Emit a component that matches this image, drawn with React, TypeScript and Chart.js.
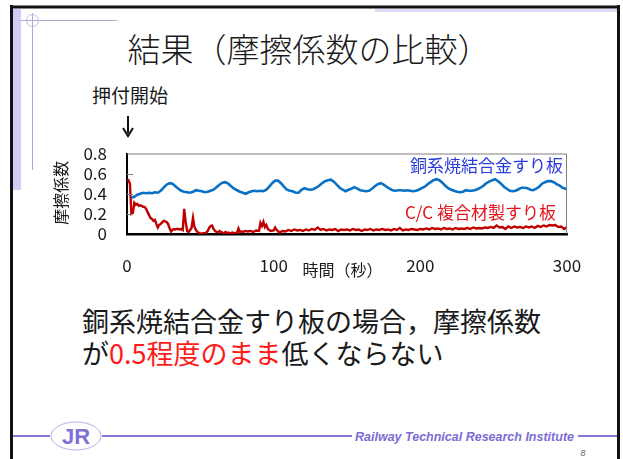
import React, { useEffect, useRef } from "react";
import { Chart, registerables } from "chart.js";

Chart.register(...registerables);

// 銅系焼結合金すり板: time (s) and friction coefficient
const timeSintered = [
  3, 5, 7, 9, 11, 13, 15, 17, 19, 21, 23, 25, 27, 29, 31, 33, 35, 37, 39, 41, 43, 45, 47, 49, 51, 53, 55, 57, 59,
  61, 63, 65, 67, 69, 71, 73, 75, 77, 79, 81, 83, 85, 87, 89, 91, 93, 95, 97, 99, 101, 103, 105, 107, 109, 111,
  113, 115, 117, 119, 121, 123, 125, 127, 129, 131, 133, 135, 137, 139, 141, 143, 145, 147, 149, 151, 153, 155,
  157, 159, 161, 163, 165, 167, 169, 171, 173, 175, 177, 179, 181, 183, 185, 187, 189, 191, 193, 195, 197, 199,
  201, 203, 205, 207, 209, 211, 213, 215, 217, 219, 221, 223, 225, 227, 229, 231, 233, 235, 237, 239, 241, 243,
  245, 247, 249, 251, 253, 255, 257, 259, 261, 263, 265, 267, 269, 271, 273, 275, 277, 279, 281, 283, 285, 287,
  289, 291, 293, 295, 297, 299, 300,
];
const muSintered = [
  0.36, 0.37, 0.39, 0.4, 0.41, 0.405, 0.41, 0.405, 0.415, 0.41, 0.43, 0.46, 0.49, 0.505, 0.5, 0.475, 0.45, 0.43,
  0.42, 0.415, 0.41, 0.42, 0.435, 0.43, 0.425, 0.415, 0.42, 0.43, 0.44, 0.465, 0.49, 0.51, 0.515, 0.5, 0.475, 0.45,
  0.435, 0.42, 0.41, 0.4, 0.415, 0.425, 0.43, 0.425, 0.43, 0.425, 0.44, 0.47, 0.505, 0.53, 0.53, 0.505, 0.47,
  0.44, 0.43, 0.425, 0.41, 0.41, 0.44, 0.455, 0.445, 0.44, 0.445, 0.46, 0.48, 0.505, 0.525, 0.535, 0.54, 0.52,
  0.49, 0.46, 0.44, 0.425, 0.44, 0.45, 0.465, 0.45, 0.435, 0.43, 0.425, 0.43, 0.45, 0.475, 0.495, 0.505, 0.49,
  0.47, 0.45, 0.435, 0.43, 0.435, 0.435, 0.43, 0.435, 0.43, 0.425, 0.43, 0.44, 0.455, 0.47, 0.495, 0.515, 0.535,
  0.545, 0.535, 0.51, 0.48, 0.455, 0.44, 0.43, 0.42, 0.415, 0.42, 0.435, 0.43, 0.43, 0.435, 0.445, 0.46, 0.48,
  0.505, 0.52, 0.535, 0.545, 0.525, 0.5, 0.47, 0.45, 0.43, 0.425, 0.43, 0.445, 0.46, 0.46, 0.455, 0.44, 0.435,
  0.45, 0.47, 0.5, 0.515, 0.525, 0.525, 0.515, 0.495, 0.48, 0.46, 0.45, 0.445,
];

// C/C 複合材製すり板: time (s) and friction coefficient
const timeCC = [
  0, 1, 2, 3, 4, 5, 6, 7, 8, 9, 10, 11, 12, 13, 14, 15, 16, 17, 18, 19, 20, 21, 22, 23, 24, 25, 26, 27, 28, 29, 30,
  31, 32, 33, 34, 35, 36, 37, 38, 39, 40, 41, 42, 43, 44, 45, 46, 47, 48, 49, 50, 51, 52, 53, 54, 55, 56, 57, 58,
  59, 60, 61, 62, 63, 64, 65, 66, 67, 68, 69, 70, 71, 72, 73, 74, 75, 76, 77, 78, 79, 80, 81, 82, 84, 86, 88, 90,
  91, 92, 93, 94, 95, 96, 98, 100, 101, 102, 104, 106, 108, 110, 112, 114, 116, 118, 120, 122, 124, 126, 128, 130,
  132, 134, 136, 138, 140, 142, 144, 146, 148, 150, 152, 154, 156, 158, 160, 162, 164, 166, 168, 170, 172, 174,
  176, 178, 180, 182, 184, 186, 188, 190, 192, 194, 196, 198, 200, 202, 204, 206, 208, 210, 212, 214, 216, 218,
  220, 222, 224, 226, 228, 230, 232, 234, 236, 238, 240, 242, 244, 246, 248, 250, 252, 254, 256, 258, 260, 262,
  264, 266, 268, 270, 272, 274, 276, 278, 280, 282, 284, 286, 288, 290, 292, 294, 296, 298, 300,
];
const muCC = [
  0.53, 0.535, 0.5, 0.2, 0.21, 0.31, 0.29, 0.3, 0.28, 0.285, 0.28, 0.27, 0.27, 0.25, 0.22, 0.19, 0.16, 0.15, 0.13,
  0.14, 0.1, 0.065, 0.09, 0.1, 0.115, 0.13, 0.125, 0.12, 0.1, 0.06, 0.025, 0.04, 0.05, 0.045, 0.05, 0.05, 0.045,
  0.05, 0.04, 0.25, 0.12, 0.03, 0.02, 0.04, 0.06, 0.16, 0.07, 0.04, 0.02, 0.01, 0.005, 0.0, 0.01, 0.005, 0.015,
  0.03, 0.06, 0.08, 0.085, 0.05, 0.03, 0.02, 0.015, 0.03, 0.02, 0.015, 0.005, 0.02, 0.01, 0.015, 0.005, 0.01,
  0.015, 0.005, 0.01, 0.01, 0.055, 0.02, 0.025, 0.02, 0.025, 0.03, 0.025, 0.03, 0.02, 0.035, 0.03, 0.11, 0.08,
  0.12, 0.07, 0.09, 0.05, 0.03, 0.035, 0.065, 0.04, 0.015, 0.03, 0.025, 0.04, 0.03, 0.045, 0.035, 0.04, 0.03,
  0.045, 0.035, 0.05, 0.04, 0.065, 0.04, 0.05, 0.035, 0.045, 0.04, 0.05, 0.03, 0.045, 0.04, 0.045, 0.035, 0.05,
  0.04, 0.045, 0.03, 0.045, 0.04, 0.05, 0.035, 0.045, 0.04, 0.05, 0.04, 0.045, 0.035, 0.05, 0.04, 0.06, 0.035,
  0.045, 0.04, 0.05, 0.045, 0.04, 0.05, 0.045, 0.055, 0.045, 0.06, 0.05, 0.055, 0.045, 0.06, 0.05, 0.055, 0.045,
  0.06, 0.05, 0.055, 0.05, 0.06, 0.05, 0.065, 0.055, 0.06, 0.055, 0.065, 0.06, 0.07, 0.06, 0.085, 0.065, 0.07,
  0.05, 0.075, 0.06, 0.075, 0.065, 0.07, 0.06, 0.075, 0.065, 0.075, 0.06, 0.08, 0.07, 0.085, 0.075, 0.09, 0.085,
  0.09, 0.07, 0.075, 0.05, 0.07,
];

const xTickValues = [0, 100, 200, 300];
const yTickValues = [0, 0.2, 0.4, 0.6, 0.8];
const innerTickValues = [0.2, 0.4, 0.6];

const seriesNames = ["銅系焼結合金すり板", "C/C 複合材製すり板"];
const xTitle = "時間（秒）";
const yTitle = "摩擦係数";

const JP = '"Noto Sans CJK JP", "Noto Sans", sans-serif';

// Frame, inner tick marks, axis titles and in-plot series labels
const decorations = {
  id: "decorations",
  afterDraw(chart: any) {
    const { ctx, chartArea: a, scales } = chart;
    ctx.save();
    // light top/right frame
    ctx.strokeStyle = "#7f7f7f";
    ctx.lineWidth = 1;
    ctx.beginPath();
    ctx.moveTo(a.left, a.top + 0.5);
    ctx.lineTo(a.right - 0.5, a.top + 0.5);
    ctx.lineTo(a.right - 0.5, a.bottom);
    ctx.stroke();
    // short tick marks pointing into the plot
    ctx.strokeStyle = "#808080";
    innerTickValues.forEach((v) => {
      const y = Math.round(scales.y.getPixelForValue(v)) + 0.5;
      ctx.beginPath();
      ctx.moveTo(a.left, y);
      ctx.lineTo(a.left + 6, y);
      ctx.stroke();
    });
    // axis titles
    ctx.fillStyle = "#1a1a1a";
    ctx.font = `16px ${JP}`;
    ctx.textAlign = "center";
    ctx.textBaseline = "middle";
    ctx.fillText(xTitle, scales.x.getPixelForValue(147), a.bottom + 36);
    ctx.save();
    ctx.translate(a.left - 66, scales.y.getPixelForValue(0.41));
    ctx.rotate(-Math.PI / 2);
    ctx.fillText(yTitle, 0, 0);
    ctx.restore();
    // series labels
    ctx.font = `17px ${JP}`;
    ctx.textAlign = "right";
    ctx.fillStyle = "#2a3bdc";
    ctx.fillText(seriesNames[0], a.right - 4, scales.y.getPixelForValue(0.68));
    ctx.fillStyle = "#e3141c";
    ctx.fillText(seriesNames[1], a.right - 11, scales.y.getPixelForValue(0.21));
    ctx.restore();
  },
};

function FrictionChart() {
  const ref = useRef<HTMLCanvasElement>(null);
  useEffect(() => {
    const canvas = ref.current!;
    const chart = new Chart(canvas, {
      type: "line",
      data: {
        datasets: [
          {
            label: seriesNames[0],
            data: timeSintered.map((t, i) => ({ x: t, y: muSintered[i] })),
            borderColor: "#0a70c4",
            borderWidth: 2.6,
            pointRadius: 0,
            tension: 0,
          },
          {
            label: seriesNames[1],
            data: timeCC.map((t, i) => ({ x: t, y: muCC[i] })),
            borderColor: "#c00000",
            borderWidth: 2.4,
            pointRadius: 0,
            tension: 0,
          },
        ],
      },
      options: {
        animation: false,
        responsive: false,
        events: [],
        layout: { padding: { left: 0, right: 56, top: 22, bottom: 0 } },
        plugins: { legend: { display: false }, tooltip: { enabled: false } },
        scales: {
          x: {
            type: "linear",
            min: 0,
            max: 300,
            afterBuildTicks: (s: any) => {
              s.ticks = xTickValues.map((v) => ({ value: v }));
            },
            afterFit: (s: any) => {
              s.height = 56;
            },
            grid: { display: true, drawOnChartArea: false, drawTicks: false },
            border: { display: true, color: "#000", width: 2.5 },
            ticks: {
              padding: 21,
              maxRotation: 0,
              autoSkip: false,
              color: "#1a1a1a",
              font: { family: JP, size: 17 },
            },
          },
          y: {
            min: 0,
            max: 0.8,
            afterBuildTicks: (s: any) => {
              s.ticks = yTickValues.map((v) => ({ value: v }));
            },
            afterFit: (s: any) => {
              s.width = 127;
            },
            grid: { display: true, drawOnChartArea: false, drawTicks: false },
            border: { display: true, color: "#000", width: 2 },
            ticks: {
              padding: 20,
              autoSkip: false,
              color: "#1a1a1a",
              font: { family: JP, size: 17, lineHeight: 1 },
              callback: (v: any) => String(Math.round(Number(v) * 10) / 10),
            },
          },
        },
      },
      plugins: [decorations],
    } as any);
    return () => chart.destroy();
  }, []);
  return (
    <canvas
      ref={ref}
      width={623}
      height={165}
      style={{ position: "absolute", left: 0, top: 125, width: 623, height: 165 }}
    />
  );
}

export default function App() {
  useEffect(() => {
    document.body.style.margin = "0";
  }, []);
  const purple = "#8878dc";
  return (
    <div
      style={{
        position: "relative",
        width: 623,
        height: 459,
        overflow: "hidden",
        background: "#fff",
        fontFamily: JP,
        color: "#1a1a1a",
      }}
    >
      <svg width={623} height={459} style={{ position: "absolute", left: 0, top: 0 }}>
        {/* slide frame */}
        <rect x={13} y={9} width={8} height={181} fill="#cfcdf7" />
        <rect x={375} y={9} width={243} height={3} fill="#e0dcf8" />
        <line x1={11.5} y1={5} x2={11.5} y2={459} stroke="#111" strokeWidth={3} />
        <line x1={10} y1={7} x2={620} y2={7} stroke="#111" strokeWidth={3} />
        <line x1={618.5} y1={5} x2={618.5} y2={459} stroke="#111" strokeWidth={3} />
        <line x1={21} y1={20.5} x2={117} y2={20.5} stroke="#b3a4d8" strokeWidth={1} />
        <line x1={32.5} y1={13} x2={32.5} y2={170} stroke="#b3a4d8" strokeWidth={1} />
        <circle cx={32.5} cy={20.5} r={6} fill="none" stroke="#c7bce4" strokeWidth={1} />
        {/* start-of-pressing arrow */}
        <line x1={128} y1={116} x2={128} y2={133} stroke="#111" strokeWidth={2} />
        <polyline points="123,128 128,136 133,128" fill="none" stroke="#111" strokeWidth={2} />
        {/* footer */}
        <line x1={13} y1={436} x2={50} y2={436} stroke={purple} strokeWidth={2} />
        <line x1={102} y1={436} x2={352} y2={436} stroke={purple} strokeWidth={2} />
        <line x1={578} y1={436} x2={617} y2={436} stroke={purple} strokeWidth={2} />
        <ellipse cx={76} cy={436} rx={25} ry={14} fill="#fff" stroke="#b9aeea" strokeWidth={1} />
        <text
          x={76}
          y={444}
          textAnchor="middle"
          fontFamily="Liberation Sans, sans-serif"
          fontWeight="bold"
          fontSize={22}
          fill="#8070d8"
        >
          JR
        </text>
        <text
          x={355}
          y={441}
          textLength={219}
          lengthAdjust="spacingAndGlyphs"
          fontFamily="Liberation Sans, sans-serif"
          fontWeight="bold"
          fontStyle="italic"
          fontSize={12}
          fill="#7c6cd4"
        >
          Railway Technical Research Institute
        </text>
        <text
          x={583}
          y={456}
          textAnchor="middle"
          fontFamily="Liberation Sans, sans-serif"
          fontStyle="italic"
          fontSize={9}
          fill="#666"
        >
          8
        </text>
      </svg>

      <div
        style={{
          position: "absolute",
          left: 0,
          width: 618,
          top: 30,
          textAlign: "center",
          fontSize: 33,
          fontWeight: 300,
          lineHeight: "36px",
          whiteSpace: "nowrap",
        }}
      >
        結果（摩擦係数の比較）
      </div>

      <div style={{ position: "absolute", left: 92, top: 84, fontSize: 19, lineHeight: "22px" }}>押付開始</div>

      <FrictionChart />

      <div
        style={{
          position: "absolute",
          left: 82,
          top: 305,
          fontSize: 27,
          lineHeight: "32px",
          whiteSpace: "nowrap",
        }}
      >
        <div>銅系焼結合金すり板の場合，摩擦係数</div>
        <div>
          が<span style={{ color: "#ff1a1a" }}>0.5程度のまま</span>低くならない
        </div>
      </div>
    </div>
  );
}
